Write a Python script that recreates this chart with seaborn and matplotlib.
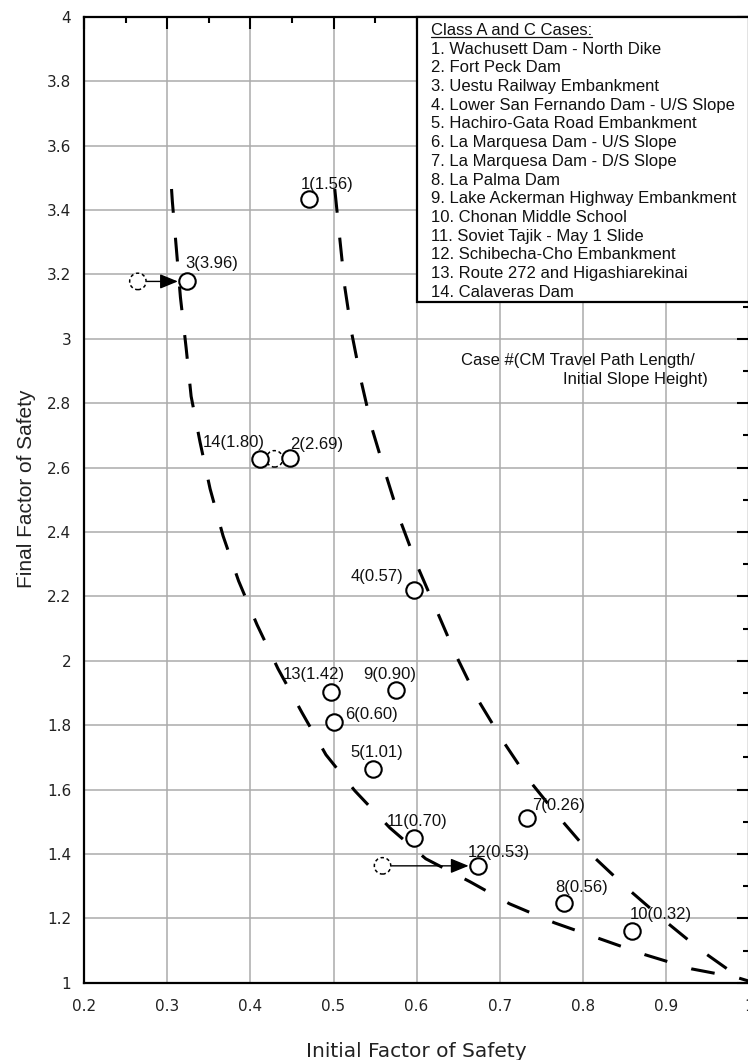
import matplotlib
matplotlib.use("Agg")
import matplotlib.pyplot as plt
import seaborn as sns
import pandas as pd
from matplotlib.ticker import MultipleLocator, FuncFormatter
from matplotlib.patches import Rectangle

# ---------------- data ----------------
case_ids = list(range(1, 15))
case_names = [
    "Wachusett Dam - North Dike",
    "Fort Peck Dam",
    "Uestu Railway Embankment",
    "Lower San Fernando Dam - U/S Slope",
    "Hachiro-Gata Road Embankment",
    "La Marquesa Dam - U/S Slope",
    "La Marquesa Dam - D/S Slope",
    "La Palma Dam",
    "Lake Ackerman Highway Embankment",
    "Chonan Middle School",
    "Soviet Tajik - May 1 Slide",
    "Schibecha-Cho Embankment",
    "Route 272 and Higashiarekinai",
    "Calaveras Dam",
]
fs_initial = [0.470, 0.448, 0.324, 0.597, 0.547, 0.501, 0.733, 0.777,
              0.575, 0.859, 0.597, 0.674, 0.497, 0.411]
fs_final = [3.434, 2.629, 3.178, 2.220, 1.664, 1.811, 1.511, 1.249,
            1.910, 1.161, 1.451, 1.363, 1.903, 2.626]
travel_ratio = ["1.56", "2.69", "3.96", "0.57", "1.01", "0.60", "0.26",
                "0.56", "0.90", "0.32", "0.70", "0.53", "1.42", "1.80"]

# earlier (dashed) positions of relocated cases
moved_case = [3, 12, 14]
moved_from_x = [0.2645, 0.559, 0.429]
moved_from_y = [3.178, 1.363, 2.627]
arrow_cases = [3, 12]

# hand-drawn bounding envelopes
lower_env_x = [0.305, 0.306, 0.311, 0.3157, 0.3226, 0.3286, 0.3394, 0.3514,
               0.367, 0.3857, 0.4079, 0.4332, 0.462, 0.4909, 0.5257, 0.5678,
               0.611, 0.664, 0.712, 0.766, 0.820, 0.875, 0.931, 0.986, 1.0]
lower_env_y = [3.465, 3.426, 3.274, 3.129, 2.971, 2.821, 2.678, 2.534,
               2.388, 2.248, 2.112, 1.975, 1.839, 1.708, 1.596, 1.481,
               1.385, 1.314, 1.245, 1.186, 1.137, 1.087, 1.043, 1.016, 1.005]
upper_env_x = [0.5015, 0.5077, 0.5137, 0.522, 0.5335, 0.5468, 0.563, 0.5804,
               0.6008, 0.6243, 0.647, 0.6724, 0.7036, 0.736, 0.772, 0.809,
               0.8514, 0.897, 0.9416, 0.987, 1.0]
upper_env_y = [3.465, 3.307, 3.158, 3.016, 2.866, 2.717, 2.578, 2.435,
               2.295, 2.155, 2.019, 1.885, 1.752, 1.627, 1.512, 1.401,
               1.298, 1.196, 1.102, 1.019, 1.0]

x_label = "Initial Factor of Safety"
y_label = "Final Factor of Safety"
legend_title = "Class A and C Cases:"
note_lines = ["Case #(CM Travel Path Length/", "Initial Slope Height)"]

# ---------------- layout (label offsets, points) ----------------
label_offsets = {
    1: (-5.8, 7.2), 2: (0.0, 6.5), 3: (-1.4, 9.4), 4: (-46.0, 6.5),
    5: (-15.8, 8.4), 6: (7.9, 2.2), 7: (3.6, 5.8), 8: (-5.8, 7.9),
    9: (-23.8, 7.9), 10: (-1.4, 8.6), 11: (-19.4, 8.4), 12: (-7.2, 6.5),
    13: (-34.6, 9.4), 14: (-41.0, 8.4),
}

sns.set_style("white")
plt.rcParams["font.family"] = ["Liberation Sans", "DejaVu Sans"]

fig = plt.figure(figsize=(7.48, 10.6), dpi=100)
ax = fig.add_axes([0.1127, 0.0729, 0.8885, 0.9113])

df = pd.DataFrame({"case": case_ids, "fs_i": fs_initial, "fs_f": fs_final,
                   "ratio": travel_ratio})

dash = (0, (7.8, 8.2))
sns.lineplot(x=lower_env_x, y=lower_env_y, sort=False, estimator=None,
             color="black", linewidth=2.2, linestyle=dash, ax=ax, zorder=2)
sns.lineplot(x=upper_env_x, y=upper_env_y, sort=False, estimator=None,
             color="black", linewidth=2.2, linestyle=dash, ax=ax, zorder=2)

# earlier positions (dashed circles) and arrows
ax.scatter(moved_from_x, moved_from_y, s=140, facecolors="white",
           edgecolors="black", linewidths=1.1, linestyle=(0, (2.2, 1.8)),
           zorder=3)
for cid, fx, fy in zip(moved_case, moved_from_x, moved_from_y):
    if cid in arrow_cases:
        row = df[df["case"] == cid].iloc[0]
        ax.annotate("", xy=(row["fs_i"], row["fs_f"]), xytext=(fx, fy),
                    arrowprops=dict(arrowstyle="-|>,head_length=1.1,head_width=0.45",
                                    color="black", lw=1.0, shrinkA=6.5, shrinkB=6.8),
                    zorder=3)

sns.scatterplot(data=df, x="fs_i", y="fs_f", s=140, marker="o",
                facecolor="white", edgecolor="black", linewidth=1.5,
                ax=ax, zorder=4)

for _, row in df.iterrows():
    dx, dy = label_offsets[int(row["case"])]
    ax.annotate(f"{int(row['case'])}({row['ratio']})",
                xy=(row["fs_i"], row["fs_f"]), xytext=(dx, dy),
                textcoords="offset points", ha="left", va="baseline",
                fontsize=12, color="#111111", zorder=4)

# axes styling
ax.set_xlim(0.2, 1.0)
ax.set_ylim(1.0, 4.0)
ax.xaxis.set_major_locator(MultipleLocator(0.1))
ax.xaxis.set_minor_locator(MultipleLocator(0.05))
ax.yaxis.set_major_locator(MultipleLocator(0.2))
ax.yaxis.set_minor_locator(MultipleLocator(0.1))
fmt = FuncFormatter(lambda v, p: f"{v:.1f}".rstrip("0").rstrip("."))
ax.xaxis.set_major_formatter(fmt)
ax.yaxis.set_major_formatter(fmt)
ax.set_axisbelow(True)
ax.grid(True, which="major", color="#ababab", linewidth=1.1)
ax.tick_params(which="both", direction="in", top=True, right=True,
               width=1.5, color="black")
ax.tick_params(which="major", length=8.6)
ax.tick_params(which="minor", length=4.5)
ax.tick_params(axis="x", which="major", pad=12, labelsize=11,
               labelcolor="#222222", labelfontfamily="DejaVu Sans")
ax.tick_params(axis="y", which="major", pad=9.5, labelsize=11,
               labelcolor="#222222", labelfontfamily="DejaVu Sans")
for sp in ax.spines.values():
    sp.set_visible(True)
    sp.set_linewidth(1.6)
    sp.set_color("black")

ax.set_xlabel(x_label, fontsize=14.5, family="DejaVu Sans", color="#222222")
ax.set_ylabel(y_label, fontsize=15, color="#222222")
ax.xaxis.set_label_coords(0.5, -0.061)
ax.yaxis.set_label_coords(-0.0727, 0.511)

# legend box with case list
box = Rectangle((0.5006, 0.7047), 1 - 0.5006, 1 - 0.7047,
                transform=ax.transAxes, facecolor="white", edgecolor="black",
                linewidth=1.6, zorder=5, clip_on=False)
ax.add_patch(box)
legend_lines = [legend_title] + [f"{i}. {n}" for i, n in zip(case_ids, case_names)]
texts = []
for i, line in enumerate(legend_lines):
    t = ax.text(0.5212, 0.98106 - i * 0.019348, line, transform=ax.transAxes,
                ha="left", va="baseline", fontsize=12, color="#111111", zorder=6)
    texts.append(t)

fig.canvas.draw()
r = fig.canvas.get_renderer()
bb = texts[0].get_window_extent(r)
base_disp = ax.transAxes.transform((0, 0.98106))[1]
p0 = ax.transAxes.inverted().transform((bb.x0, base_disp - 2))
p1 = ax.transAxes.inverted().transform((bb.x1, base_disp - 2))
ax.plot([p0[0], p1[0]], [p0[1], p1[1]], transform=ax.transAxes,
        color="#111111", lw=0.9, zorder=6)

# note text
ax.text(0.9189, 0.6394, note_lines[0], transform=ax.transAxes, ha="right",
        va="baseline", fontsize=12, color="#111111", zorder=4)
ax.text(0.9384, 0.6203, note_lines[1], transform=ax.transAxes, ha="right",
        va="baseline", fontsize=12, color="#111111", zorder=4)

fig.savefig("out.png", dpi=100)
